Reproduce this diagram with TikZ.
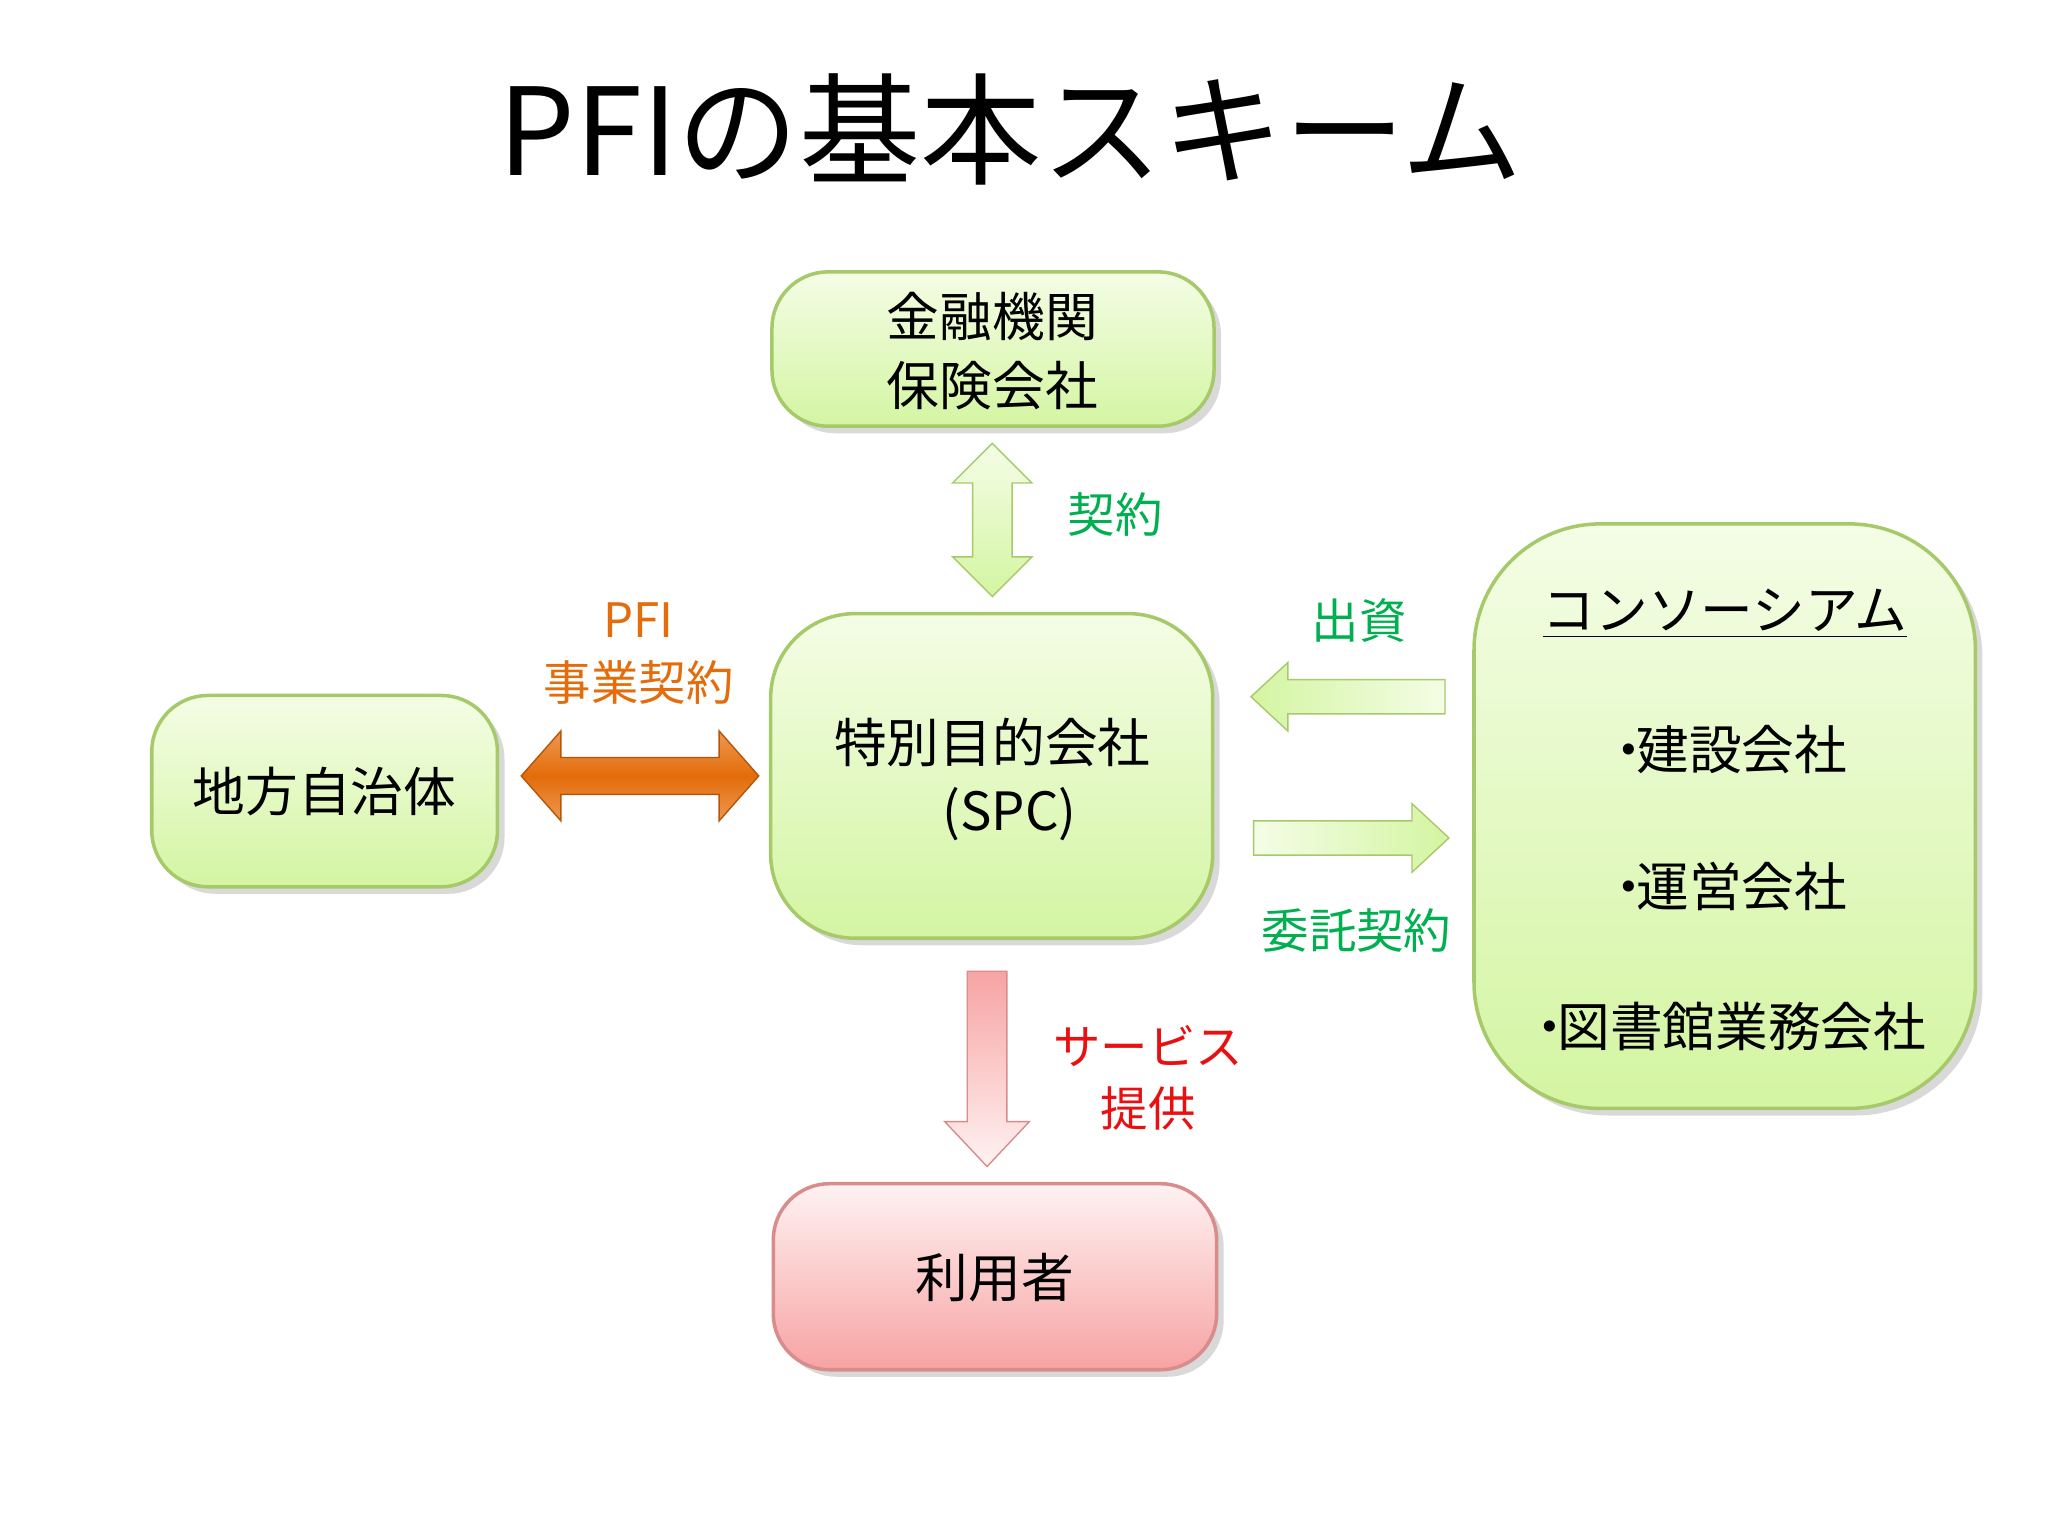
\documentclass[tikz,border=0pt]{standalone}
\usepackage{fontspec}
\setmainfont{Noto Sans CJK JP}
\usetikzlibrary{shadows}
\definecolor{gtop}{HTML}{F4FDE6}
\definecolor{gbot}{HTML}{D4F5A2}
\definecolor{gbord}{HTML}{A6C96A}
\definecolor{ptop}{HTML}{FFF2F2}
\definecolor{pbot}{HTML}{F7A3A3}
\definecolor{pbord}{HTML}{D98C8C}
\definecolor{lgreen}{HTML}{00B050}
\definecolor{lorange}{HTML}{E46C0A}
\definecolor{lred}{HTML}{E81010}
\begin{document}
\begin{tikzpicture}[x=0.0132cm,y=-0.0132cm,
  gbox/.style={draw=gbord,line width=1pt,rounded corners=16pt,top color=gtop,bottom color=gbot,
    drop shadow={shadow xshift=2pt,shadow yshift=-2pt,opacity=0.3}},
  pbox/.style={draw=pbord,line width=1pt,rounded corners=16pt,top color=ptop,bottom color=pbot,
    drop shadow={shadow xshift=2pt,shadow yshift=-2pt,opacity=0.3}},
  btxt/.style={font=\fontsize{15}{18}\selectfont,inner sep=0pt},
  lbl/.style={font=\fontsize{13.5}{16}\selectfont,inner sep=0pt}]
\useasboundingbox (0,0) rectangle (1552,1164);
\node[font=\fontsize{34.5}{38}\selectfont] (title) at (766,98) {PFIの基本スキーム};
% boxes
\path[gbox] (585,206) rectangle (920,323);
\node[btxt] (kin1) at (752,240) {金融機関};
\node[btxt] (kin2) at (752,292) {保険会社};
\path[gbox,rounded corners=24pt] (584,465) rectangle (919,711);
\node[btxt] (spc1) at (752,563) {特別目的会社};
\node[btxt] (spc2) at (765,617) {(SPC)};
\path[gbox] (115,527) rectangle (377,672);
\node[btxt] (chi) at (246,600) {地方自治体};
\path[gbox,rounded corners=36pt] (1117,397) rectangle (1497,840);
\node[btxt] (con) at (1307,465) {\underline{コンソーシアム}};
\node[btxt] (c1) at (1307,568) {・\kern-0.35em 建設会社};
\node[btxt] (c2) at (1307,672) {・\kern-0.35em 運営会社};
\node[btxt] (c3) at (1307,778) {・\kern-0.35em 図書館業務会社};
\path[pbox] (586,897) rectangle (922,1038);
\node[btxt] (user) at (754,968) {利用者};
% arrows
\path[draw=gbord,top color=gtop,bottom color=gbot] (752,336)--(782,366)--(767,366)--(767,422)--(782,422)--(752,452)--(722,422)--(737,422)--(737,366)--(722,366)--cycle;
\path[draw=lorange!80!black,top color=lorange!70,bottom color=lorange!70,middle color=lorange] (395,588)--(425,554)--(425,574)--(545,574)--(545,554)--(575,588)--(545,622)--(545,602)--(425,602)--(425,622)--cycle;
\path[draw=gbord,left color=gbot,right color=gtop] (948,528)--(976,502)--(976,515)--(1095,515)--(1095,541)--(976,541)--(976,554)--cycle;
\path[draw=gbord,left color=gtop,right color=gbot] (950,622)--(1070,622)--(1070,609)--(1098,635)--(1070,661)--(1070,648)--(950,648)--cycle;
\path[draw=pbord,top color=pbot,bottom color=ptop] (733,736)--(763,736)--(763,850)--(780,850)--(748,884)--(716,850)--(733,850)--cycle;
% labels
\node[lbl,text=lgreen] (l1) at (845,390) {契約};
\node[lbl,text=lorange] (l2) at (484,470) {PFI};
\node[lbl,text=lorange] (l3) at (484,517) {事業契約};
\node[lbl,text=lgreen] (l4) at (1030,470) {出資};
\node[lbl,text=lgreen] (l5) at (1028,705) {委託契約};
\node[lbl,text=lred] (l6) at (870,793) {サービス};
\node[lbl,text=lred] (l7) at (870,840) {提供};
\end{tikzpicture}
\end{document}
